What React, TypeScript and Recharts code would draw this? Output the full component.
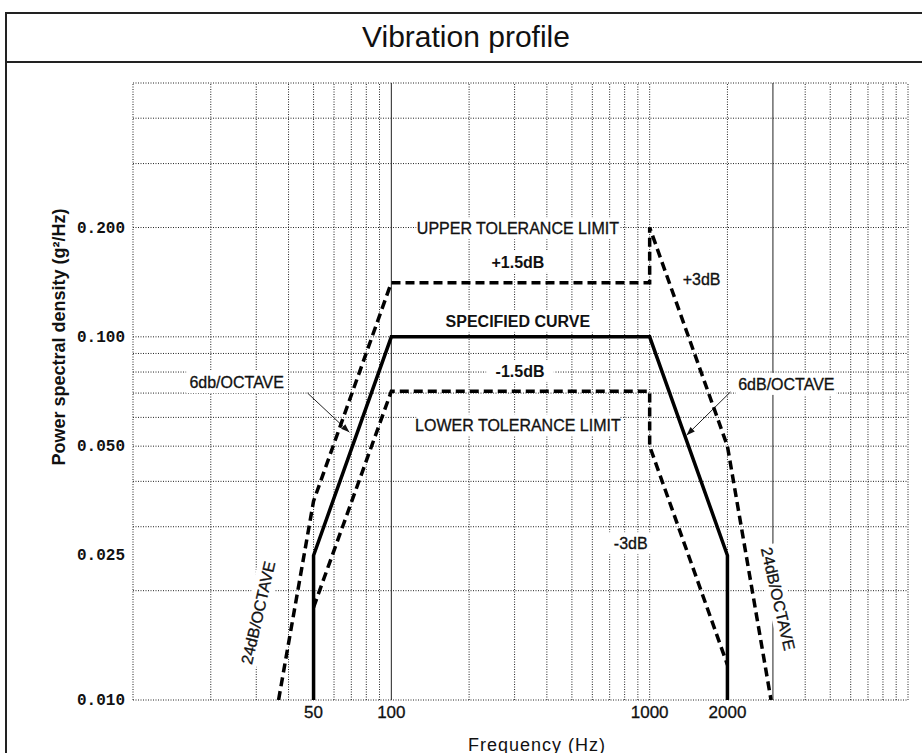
import React from 'react';
import { LineChart, Line, XAxis, YAxis, ReferenceLine, ReferenceDot } from 'recharts';

// specified curve, Hz vs g²/Hz
const specFreq = [50, 50, 100, 1000, 2000, 2000];
const specPsd = [0.01, 0.025, 0.1, 0.1, 0.025, 0.01];

// upper tolerance limit
const upperFreq = [36.6, 50, 100, 1000, 1000, 2000, 2950];
const upperPsd = [0.01, 0.0353, 0.141, 0.141, 0.2, 0.05, 0.01];

// lower tolerance limit
const lowerFreq = [50, 100, 1000, 1000, 2000];
const lowerPsd = [0.018, 0.0708, 0.0708, 0.05, 0.0125];

const freqTicks = [50, 100, 1000, 2000];
const psdTicks = [0.01, 0.025, 0.05, 0.1, 0.2];

// log graph paper lines
const freqGrid = [
  10, 20, 30, 40, 50, 60, 70, 80, 90,
  100, 200, 300, 400, 500, 600, 700, 800, 900,
  1000, 2000, 3000, 4000, 5000, 6000, 7000, 8000, 9000, 10000,
];
const solidFreqGrid = [100, 3000];
const psdGrid = [0.01, 0.02, 0.03, 0.04, 0.05, 0.06, 0.07, 0.08, 0.09, 0.1, 0.2, 0.3, 0.4, 0.5];

const notes = [
  { text: 'UPPER TOLERANCE LIMIT', f: 309, psd: 0.199, bold: false, angle: 0 },
  { text: '+1.5dB', f: 309, psd: 0.161, bold: true, angle: 0 },
  { text: 'SPECIFIED CURVE', f: 309, psd: 0.1107, bold: true, angle: 0 },
  { text: '-1.5dB', f: 315, psd: 0.0806, bold: true, angle: 0 },
  { text: 'LOWER TOLERANCE LIMIT', f: 309, psd: 0.0571, bold: false, angle: 0 },
  { text: '+3dB', f: 1588, psd: 0.1446, bold: false, angle: 0 },
  { text: '-3dB', f: 845, psd: 0.027, bold: false, angle: 0 },
  { text: '6db/OCTAVE', f: 25.2, psd: 0.0751, bold: false, angle: 0 },
  { text: '6dB/OCTAVE', f: 3381, psd: 0.0742, bold: false, angle: 0 },
  { text: '24dB/OCTAVE', f: 30.4, psd: 0.0174, bold: false, angle: -77 },
  { text: '24dB/OCTAVE', f: 3148, psd: 0.019, bold: false, angle: 77 },
];

const leaders = [
  { from: { f: 47.4, psd: 0.07 }, to: { f: 68.8, psd: 0.0546 } },
  { from: { f: 2054, psd: 0.0705 }, to: { f: 1390, psd: 0.0536 } },
];

const toPoints = (fs: number[], ps: number[]) => fs.map((f, i) => ({ f, psd: ps[i] }));

const FONT = "'Liberation Sans', Arial, sans-serif";

const FreqTick = ({ x, y, payload }: any) => (
  <text x={x} y={y} dy={10} textAnchor="middle" fontFamily={FONT} fontSize={17} fill="#111"
    stroke="#111" strokeWidth={0.3}>
    {payload.value}
  </text>
);

const PsdTick = ({ x, y, payload }: any) => (
  <text x={x} y={y} dy={5} textAnchor="end" fontFamily="'Liberation Mono', monospace" fontWeight="bold" fontSize={16} fill="#111">
    {payload.value.toFixed(3)}
  </text>
);

const NoteShape = (note: any) => (props: any) => {
  const { cx, cy } = props;
  const fs = 16;
  const w = note.text.length * fs * (note.bold ? 0.62 : 0.58) + 8;
  const h = fs + 6;
  return (
    <g transform={`rotate(${note.angle}, ${cx}, ${cy})`}>
      <rect x={cx - w / 2} y={cy - h / 2} width={w} height={h} fill="#fff" />
      <text x={cx} y={cy} dy={6} textAnchor="middle" fontFamily={FONT} fontSize={fs}
        fontWeight={note.bold ? 'bold' : 'normal'} fill="#111" stroke="#111" strokeWidth={note.bold ? 0 : 0.3}>
        {note.text}
      </text>
    </g>
  );
};

const ArrowShape = (props: any) => {
  const { x1, y1, x2, y2 } = props;
  const a = Math.atan2(y2 - y1, x2 - x1);
  const len = 9;
  const spread = 0.35;
  const p1 = `${x2 - len * Math.cos(a - spread)},${y2 - len * Math.sin(a - spread)}`;
  const p2 = `${x2 - len * Math.cos(a + spread)},${y2 - len * Math.sin(a + spread)}`;
  return (
    <g>
      <line x1={x1} y1={y1} x2={x2} y2={y2} stroke="#222" strokeWidth={1} />
      <polygon points={`${x2},${y2} ${p1} ${p2}`} fill="#111" />
    </g>
  );
};

export default function App() {
  return (
    <div style={{ position: 'fixed', left: 0, top: 0, width: 922, height: 753, overflow: 'hidden', background: '#fff' }}>
      <div style={{ position: 'absolute', left: 5, top: 12, width: 940, height: 760, border: '2px solid #222', boxSizing: 'border-box' }} />
      <div style={{ position: 'absolute', left: 5, top: 61, width: 940, height: 0, borderTop: '2px solid #222' }} />
      <div style={{ position: 'absolute', left: 466, top: 37, transform: 'translate(-50%, -50%)', fontFamily: FONT, fontSize: 30, whiteSpace: 'nowrap', color: '#111' }}>
        Vibration profile
      </div>

      <div style={{ position: 'absolute', left: 0, top: 0 }}>
        <LineChart width={922} height={753} margin={{ top: 83, right: 14, bottom: 23, left: 73 }}>
          <XAxis
            type="number"
            dataKey="f"
            scale="log"
            domain={[10, 10000]}
            allowDataOverflow
            ticks={freqTicks}
            tick={<FreqTick />}
            axisLine={false}
            tickLine={false}
            height={30}
          />
          <YAxis
            type="number"
            dataKey="psd"
            scale="log"
            domain={[0.01, 0.5]}
            allowDataOverflow
            ticks={psdTicks}
            tick={<PsdTick />}
            axisLine={false}
            tickLine={false}
            width={60}
          />
          {freqGrid.map((f) => (
            <ReferenceLine key={`vx-${f}`} x={f} stroke="#222" strokeWidth={1}
              strokeDasharray={solidFreqGrid.includes(f) ? undefined : '1 1.5'} />
          ))}
          {psdGrid.map((p) => (
            <ReferenceLine key={`hy-${p}`} y={p} stroke="#222" strokeWidth={1} strokeDasharray="1 1.5" />
          ))}
          {notes.map((n, i) => (
            <ReferenceDot key={`note-${i}`} x={n.f} y={n.psd} r={0} shape={NoteShape(n)} />
          ))}
          {leaders.map((l, i) => (
            <ReferenceLine key={`lead-${i}`} segment={[{ x: l.from.f, y: l.from.psd }, { x: l.to.f, y: l.to.psd }]} shape={ArrowShape} />
          ))}
          <Line data={toPoints(upperFreq, upperPsd)} dataKey="psd" type="linear" stroke="#000" strokeWidth={3.5}
            strokeDasharray="9 5" dot={false} isAnimationActive={false} />
          <Line data={toPoints(lowerFreq, lowerPsd)} dataKey="psd" type="linear" stroke="#000" strokeWidth={3.5}
            strokeDasharray="9 5" dot={false} isAnimationActive={false} />
          <Line data={toPoints(specFreq, specPsd)} dataKey="psd" type="linear" stroke="#000" strokeWidth={3.5}
            dot={false} isAnimationActive={false} />
        </LineChart>
      </div>

      <div style={{ position: 'absolute', left: 59, top: 337, transform: 'translate(-50%, -50%) rotate(-90deg)', fontFamily: FONT, fontSize: 18, fontWeight: 'bold', whiteSpace: 'nowrap', color: '#111' }}>
        Power spectral density (g²/Hz)
      </div>
      <div style={{ position: 'absolute', left: 537, top: 745, transform: 'translate(-50%, -50%)', fontFamily: FONT, fontSize: 18, letterSpacing: 1, whiteSpace: 'nowrap', color: '#111' }}>
        Frequency (Hz)
      </div>
    </div>
  );
}
